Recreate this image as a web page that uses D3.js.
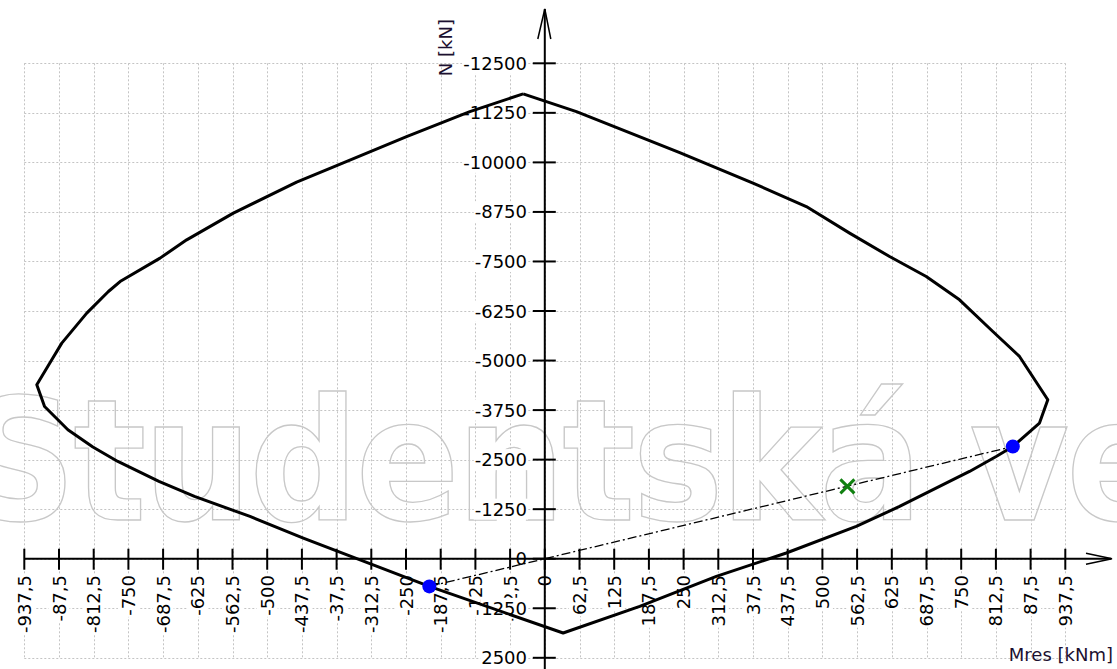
<!DOCTYPE html>
<html>
<head>
<meta charset="utf-8">
<script src="https://cdn.jsdelivr.net/npm/d3@7"></script>
<style>
    html, body { margin: 0; padding: 0; background: #fff; }
    svg { display: block; }
    text { font-family: "DejaVu Sans", sans-serif; }
</style>
</head>
<body>
<svg id="chart" width="1117" height="669"></svg>
<script>
// M-N interaction diagram (Mres [kNm] vs N [kN])
const xTickValues = [-937.5, -875, -812.5, -750, -687.5, -625, -562.5, -500, -437.5, -375, -312.5, -250, -187.5, -125, -62.5,
    0, 62.5, 125, 187.5, 250, 312.5, 375, 437.5, 500, 562.5, 625, 687.5, 750, 812.5, 875, 937.5];
const xTickLabels = ["-937,5", "-87,5", "-812,5", "-750", "-687,5", "-625", "-562,5", "-500", "-437,5", "-37,5", "-312,5", "-250", "-187,5", "-125", "-62,5",
    "0", "62,5", "125", "187,5", "250", "312,5", "37,5", "437,5", "500", "562,5", "625", "687,5", "750", "812,5", "87,5", "937,5"];
const yTickValues = [-12500, -11250, -10000, -8750, -7500, -6250, -5000, -3750, -2500, -1250, 0, 1250, 2500];
const yTickLabels = ["-12500", "-11250", "-10000", "-8750", "-7500", "-6250", "-5000", "-3750", "-2500", "-1250", "0", "1250", "2500"];

// boundary of the diagram
const curveM = [-39, -135, -249, -375, -447, -561, -645, -693, -765, -786, -825, -870, -888, -915,
    -901, -859, -814, -769, -695, -631, -531, -435, -208, 33,
    171, 309, 435, 561, 639, 711, 765, 813, 843, 891, 906,
    855, 807, 747, 687, 621, 549, 471, 375, 243, 57, -39];
const curveN = [-11728, -11282, -10651, -9919, -9503, -8719, -8046, -7584, -6994, -6742, -6197, -5440, -5019, -4389,
    -3841, -3254, -2817, -2454, -1950, -1571, -1067, -522, 699, 1874,
    1203, 446, -144, -815, -1319, -1824, -2202, -2580, -2832, -3422, -4010,
    -5103, -5733, -6533, -7120, -7625, -8215, -8886, -9476, -10248, -11282, -11728];

// resistance points on the load ray and the design load
const resistM = [-208, 843];
const resistN = [699, -2832];
const loadM = [545];
const loadN = [-1824];

const watermarkText = "Studentská ve";

let svg = d3.select('#chart');

let x = d3.scaleLinear().domain([-937.5, 937.5]).range([24.3, 1065.3]);
let y = d3.scaleLinear().domain([-12500, 2500]).range([63.3, 657.8]);
let snap = v => Math.round(v) + 0.5;

// grid
let gridG = svg.append('g').attr('id', 'grid-g')
    .attr('stroke', '#c4c4c4')
    .attr('stroke-width', 1)
    .attr('stroke-dasharray', '2,2');
gridG.selectAll('.vgrid').data(xTickValues).join('line')
    .classed('vgrid', true)
    .attr('x1', d => snap(x(d))).attr('x2', d => snap(x(d)))
    .attr('y1', y(-12500)).attr('y2', y(2500));
gridG.selectAll('.hgrid').data(yTickValues).join('line')
    .classed('hgrid', true)
    .attr('x1', x(-937.5)).attr('x2', x(937.5))
    .attr('y1', d => snap(y(d))).attr('y2', d => snap(y(d)));

// watermark
svg.append('text')
    .attr('x', -34)
    .attr('y', 520)
    .style('font-family', '"DejaVu Sans Condensed", "DejaVu Sans", sans-serif')
    .style('font-stretch', 'condensed')
    .style('font-weight', 'bold')
    .style('font-size', '170px')
    .style('letter-spacing', '-3px')
    .attr('fill', 'none')
    .attr('stroke', '#c8c8c8')
    .attr('stroke-width', 1.3)
    .text(watermarkText);

// tick labels with white background
function addLabel(g, text) {
    let t = g.append('text').text(text);
    let b = t.node().getBBox();
    g.insert('rect', 'text')
        .attr('x', b.x - 1).attr('y', b.y)
        .attr('width', b.width + 2).attr('height', b.height)
        .attr('fill', '#fff');
    return t;
}

let x0 = x(0), y0 = y(0);

let xLabelG = svg.append('g').attr('id', 'x-labels-g').style('font-size', '18px');
xTickValues.forEach((v, i) => {
    let g = xLabelG.append('g')
        .attr('transform', `translate(${x(v)},575) rotate(-90)`)
        .attr('text-anchor', 'end')
        .attr('dominant-baseline', 'central');
    addLabel(g, xTickLabels[i]);
});

let yLabelG = svg.append('g').attr('id', 'y-labels-g').style('font-size', '18px');
yTickValues.forEach((v, i) => {
    let g = yLabelG.append('g')
        .attr('transform', `translate(527,${y(v)})`)
        .attr('text-anchor', 'end')
        .attr('dominant-baseline', 'central');
    addLabel(g, yTickLabels[i]);
});

// axes
let axesG = svg.append('g').attr('id', 'axes-g')
    .attr('stroke', '#000')
    .attr('stroke-width', 2)
    .attr('fill', 'none');
axesG.append('line')
    .attr('x1', x0).attr('x2', x0)
    .attr('y1', 9).attr('y2', 669);
axesG.append('line')
    .attr('x1', x(-937.5)).attr('x2', 1111)
    .attr('y1', y0).attr('y2', y0);
axesG.selectAll('.ytick').data(yTickValues).join('line')
    .classed('ytick', true)
    .attr('x1', x0 - 12).attr('x2', x0 + 11)
    .attr('y1', d => y(d)).attr('y2', d => y(d));
axesG.selectAll('.xtick').data(xTickValues).join('line')
    .classed('xtick', true)
    .attr('x1', d => x(d)).attr('x2', d => x(d))
    .attr('y1', y0 - 10).attr('y2', y0 + 11);
// arrow heads
axesG.append('path')
    .attr('stroke-width', 1.5)
    .attr('d', `M${x0 - 7},39 L${x0},9 L${x0 + 6},39`);
axesG.append('path')
    .attr('stroke-width', 1.5)
    .attr('d', `M1086,${y0 - 5.5} L1112,${y0} L1086,${y0 + 5.5}`);

// diagram boundary
let curveData = curveM.map((m, i) => ({ m: m, n: curveN[i] }));
let line = d3.line().x(d => x(d.m)).y(d => y(d.n));
svg.append('path')
    .datum(curveData)
    .attr('d', line)
    .attr('fill', 'none')
    .attr('stroke', '#000')
    .attr('stroke-width', 3)
    .attr('stroke-linejoin', 'round');

// load ray through the origin
let rayData = [{ m: resistM[0], n: resistN[0] }, { m: 0, n: 0 }, { m: resistM[1], n: resistN[1] }];
svg.append('path')
    .datum(rayData)
    .attr('d', line)
    .attr('fill', 'none')
    .attr('stroke', '#000')
    .attr('stroke-width', 1.3)
    .attr('stroke-dasharray', '9,3,2,3');

svg.append('g').selectAll('circle')
    .data(resistM.map((m, i) => ({ m: m, n: resistN[i] })))
    .join('circle')
    .attr('cx', d => x(d.m))
    .attr('cy', d => y(d.n))
    .attr('r', 7)
    .attr('fill', '#0000ff');

svg.append('g').selectAll('path')
    .data(loadM.map((m, i) => ({ m: m, n: loadN[i] })))
    .join('path')
    .attr('d', d => {
        let cx = x(d.m), cy = y(d.n), s = 7;
        return `M${cx - s},${cy - s} L${cx + s},${cy + s} M${cx - s},${cy + s} L${cx + s},${cy - s}`;
    })
    .attr('stroke', '#108010')
    .attr('stroke-width', 3);

// axis titles
svg.append('text')
    .attr('transform', 'translate(452,19) rotate(-90)')
    .attr('text-anchor', 'end')
    .style('font-size', '18px')
    .attr('fill', '#1c1030')
    .text('N [kN]');
svg.append('text')
    .attr('x', 1113)
    .attr('y', 661)
    .attr('text-anchor', 'end')
    .style('font-size', '18px')
    .attr('fill', '#1c1030')
    .text('Mres [kNm]');
</script>
</body>
</html>
